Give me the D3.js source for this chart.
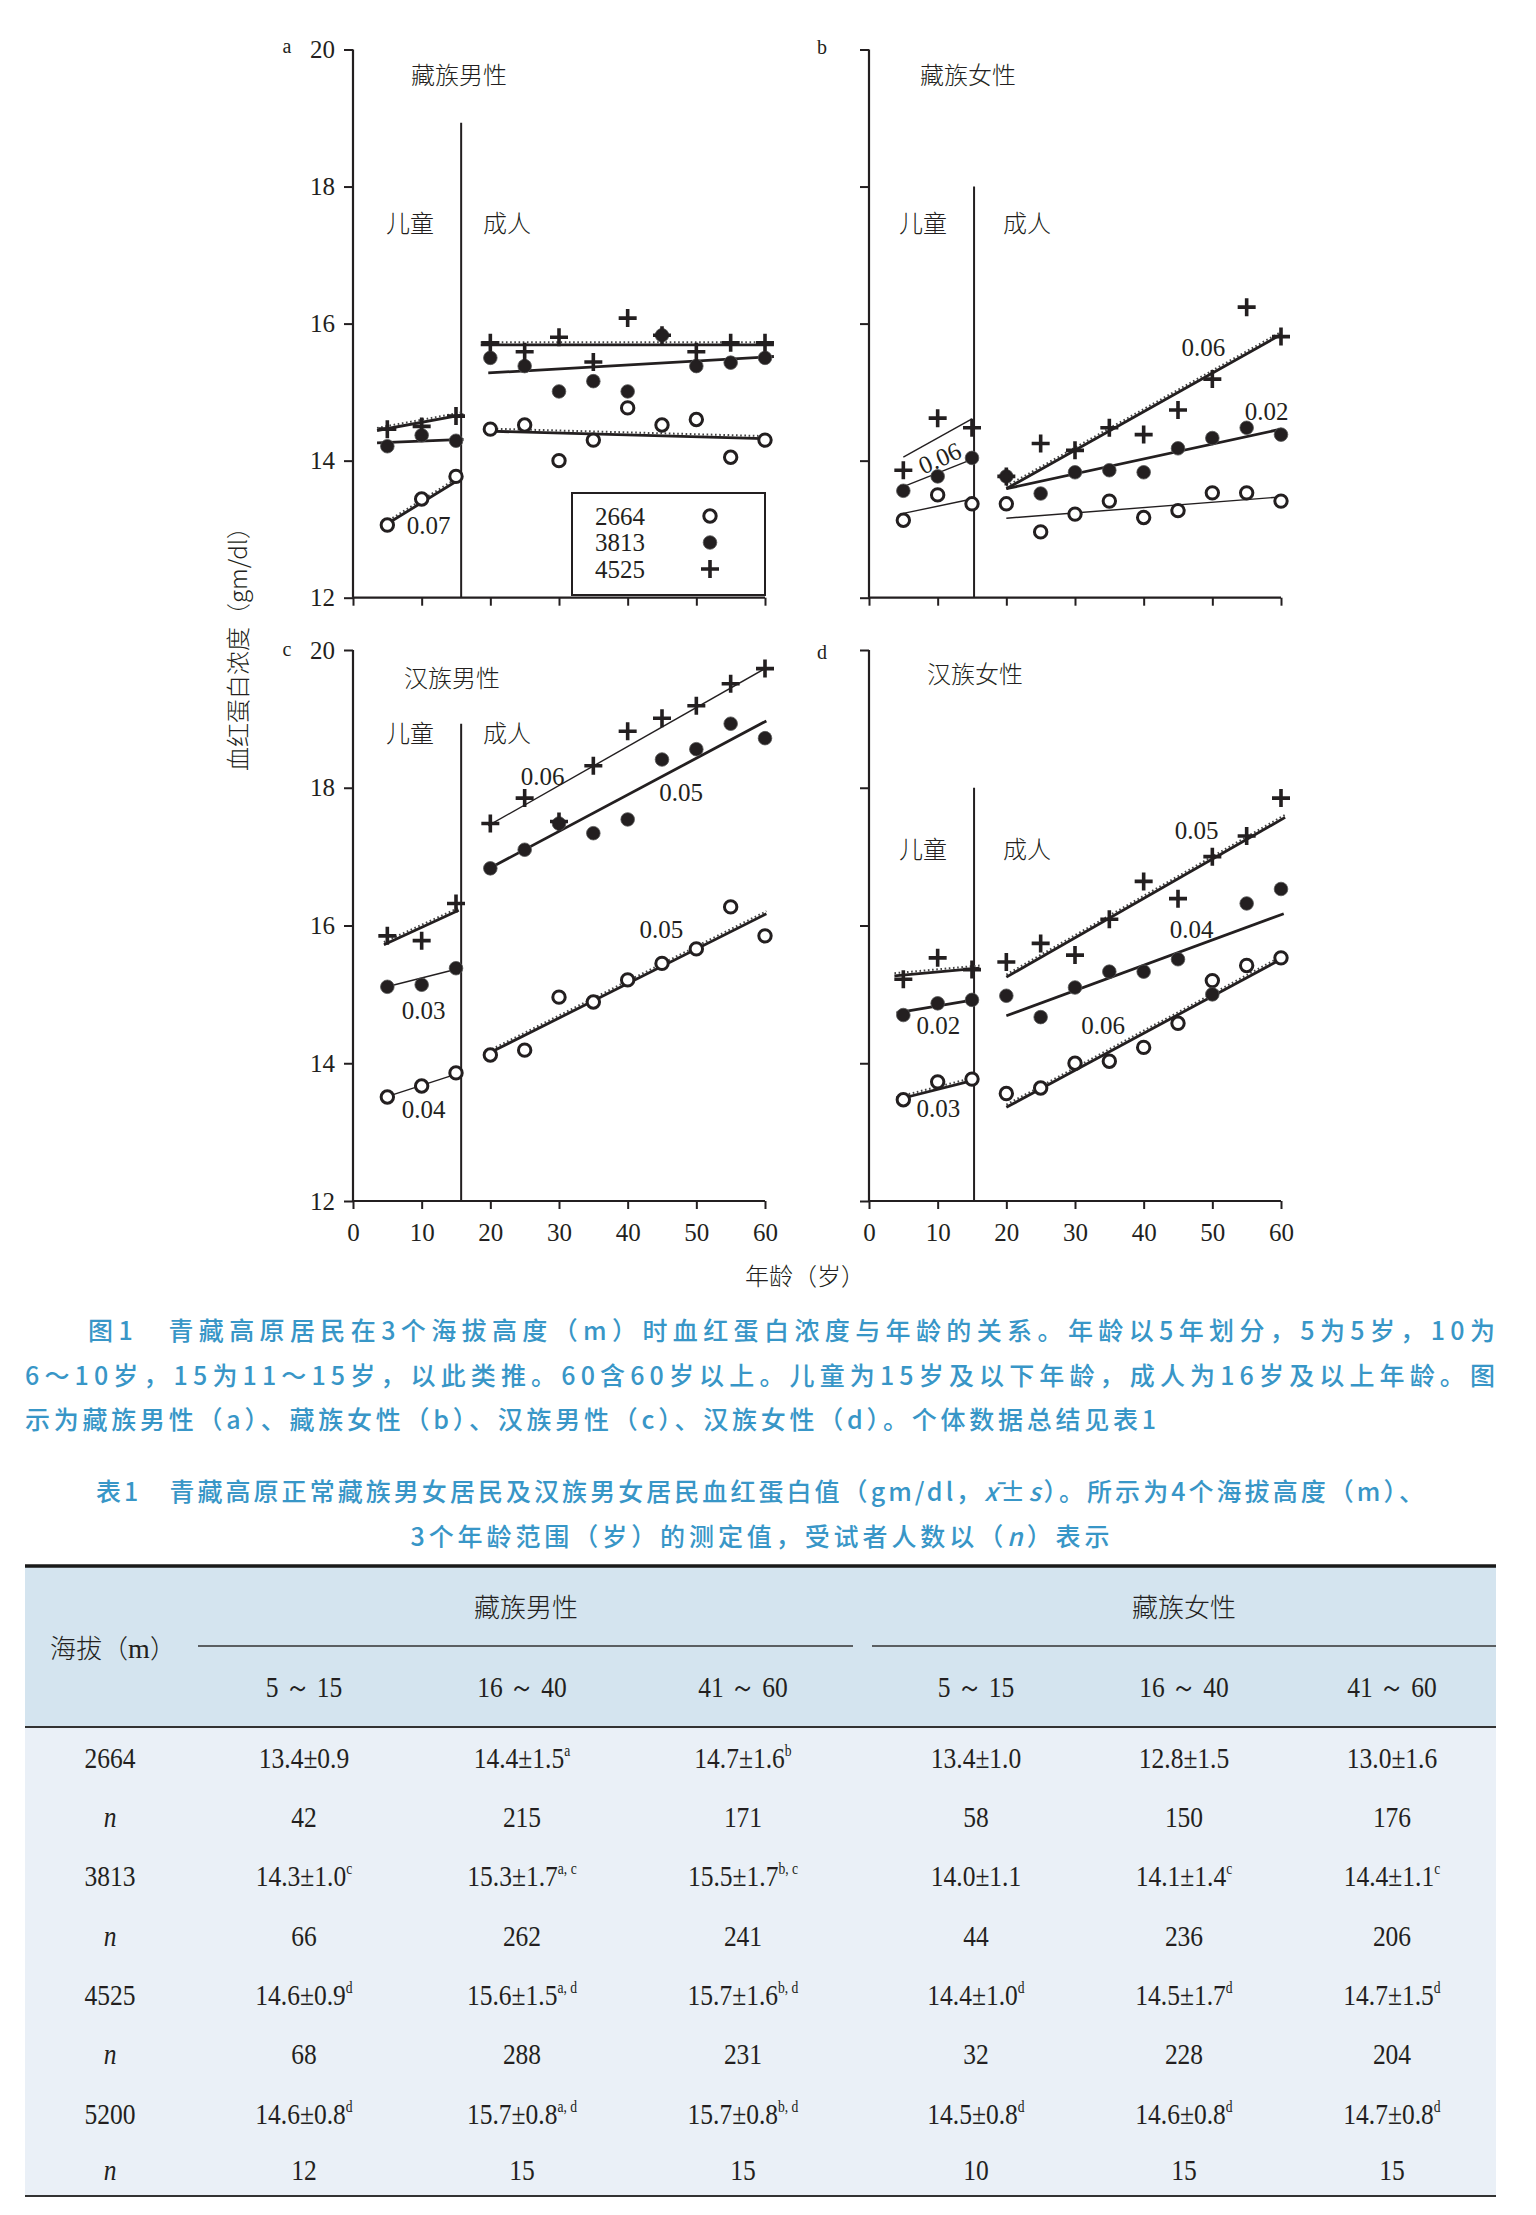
<!DOCTYPE html>
<html><head><meta charset="utf-8">
<script src="https://cdn.jsdelivr.net/npm/d3@7"></script>
<style>
html,body{margin:0;padding:0;background:#fff;}
svg{display:block;}
</style></head>
<body>
<svg id="chart" width="1536" height="2215"></svg>
<script>
// ---------------- DATA ----------------
const ages = [5,10,15,20,25,30,35,40,45,50,55,60];
const altitudes = ["2664","3813","4525"];
const yTickValues = [12,14,16,18,20];
const xTickValues = [0,10,20,30,40,50,60];

// a: 藏族男性
const tibMale2664 = [13.06,13.44,13.77,14.46,14.52,14.00,14.30,14.77,14.52,14.60,14.05,14.30];
const tibMale3813 = [14.21,14.37,14.29,15.50,15.38,15.01,15.16,15.01,15.83,15.38,15.43,15.50];
const tibMale4525 = [14.46,14.50,14.65,15.72,15.59,15.80,15.44,16.08,15.83,15.59,15.72,15.72];
const tibMaleFits = [["4525",3.5,14.44,16.1,14.67],["3813",3.5,14.26,16.1,14.31],["2664",4.7,13.06,15.7,13.74],
                     ["4525",18.6,15.69,61.3,15.69],["3813",19.7,15.28,61.3,15.52],["2664",19.7,14.43,60.2,14.32]];
const tibMaleFitKind = ["bold-dot","bold","bold-dot","bold-dot","bold","bold-dot"];
const tibMaleSlopes = [["0.07",11.0,13.06]];

// b: 藏族女性
const tibFemale2664 = [13.13,13.50,13.37,13.37,12.96,13.22,13.41,13.17,13.27,13.53,13.53,13.41];
const tibFemale3813 = [13.56,13.77,14.04,13.77,13.52,13.83,13.86,13.83,14.18,14.33,14.48,14.38];
const tibFemale4525 = [13.86,14.62,14.48,13.77,14.25,14.15,14.48,14.38,14.74,15.19,16.24,15.81];
const tibFemaleFits = [["4525",5,14.05,15,14.61],["3813",5,13.62,15,14.02],["2664",5,13.23,15,13.44],
                       ["4525",20,13.59,60,15.84],["3813",20,13.59,60,14.46],["2664",20,13.16,60,13.47]];
const tibFemaleFitKind = ["thin","thin","thin","bold-dot","bold","thin"];
const tibFemaleSlopes = [["0.06",10.3,14.04,-24],["0.06",48.7,15.65],["0.02",57.9,14.72]];

// c: 汉族男性
const hanMale2664 = [13.51,13.67,13.86,14.12,14.19,14.96,14.89,15.21,15.45,15.66,16.27,15.85];
const hanMale3813 = [15.11,15.14,15.38,16.83,17.10,17.48,17.34,17.54,18.41,18.56,18.93,18.72];
const hanMale4525 = [15.85,15.78,16.32,17.48,17.85,17.51,18.32,18.82,19.01,19.19,19.51,19.73];
const hanMaleFits = [["4525",4.5,15.72,15.4,16.22],["3813",4.5,15.10,15.6,15.38],["2664",4.5,13.50,15.6,13.86],
                     ["4525",19.7,17.45,60,19.73],["3813",19.7,16.82,60.2,18.97],["2664",19.7,14.14,60.2,16.17]];
const hanMaleFitKind = ["bold-dot","thin","thin","thin","bold","bold-dot"];
const hanMaleSlopes = [["0.03",10.3,14.77],["0.04",10.3,13.33],["0.06",27.6,18.16],["0.05",47.8,17.94],["0.05",44.9,15.95]];

// d: 汉族女性
const hanFemale2664 = [13.47,13.73,13.77,13.56,13.64,14.00,14.03,14.23,14.58,15.20,15.42,15.53];
const hanFemale3813 = [14.70,14.87,14.92,14.98,14.67,15.10,15.33,15.33,15.51,15.00,16.32,16.53];
const hanFemale4525 = [15.22,15.53,15.36,15.47,15.74,15.57,16.09,16.64,16.39,17.00,17.30,17.85];
const hanFemaleFits = [["4525",3.7,15.27,16.1,15.38],["3813",4,14.73,15.9,14.93],["2664",4,13.47,15.9,13.77],
                       ["4525",20,15.25,60.6,17.57],["3813",20,14.69,60.4,16.17],["2664",20,13.36,60,15.51]];
const hanFemaleFitKind = ["bold-dot","bold","bold-dot","bold-dot","bold","bold-dot"];
const hanFemaleSlopes = [["0.02",10.1,14.55],["0.03",10.1,13.34],["0.05",47.7,17.39],["0.04",47.0,15.95],["0.06",34.1,14.55]];

// divider (儿童 / 成人)
const dividerAge = [15.75,15.3,15.75,15.3];
const dividerTop = [18.93,18.0,18.93,18.0];

// caption & table text
const captionLines = [
  "图1　青藏高原居民在3个海拔高度（m）时血红蛋白浓度与年龄的关系。年龄以5年划分，5为5岁，10为",
  "6～10岁，15为11～15岁，以此类推。60含60岁以上。儿童为15岁及以下年龄，成人为16岁及以上年龄。图",
  "示为藏族男性（a）、藏族女性（b）、汉族男性（c）、汉族女性（d）。个体数据总结见表1"
];
const tableGroups = ["藏族男性","藏族女性"];
const tableCols = ["5 ～ 15","16 ～ 40","41 ～ 60","5 ～ 15","16 ～ 40","41 ～ 60"];
const rowLabels = ["2664","n","3813","n","4525","n","5200","n"];
const hb2664 = ["13.4±0.9","14.4±1.5","14.7±1.6","13.4±1.0","12.8±1.5","13.0±1.6"];
const sup2664 = ["","a","b","","",""];
const n2664 = ["42","215","171","58","150","176"];
const hb3813 = ["14.3±1.0","15.3±1.7","15.5±1.7","14.0±1.1","14.1±1.4","14.4±1.1"];
const sup3813 = ["c","a, c","b, c","","c","c"];
const n3813 = ["66","262","241","44","236","206"];
const hb4525 = ["14.6±0.9","15.6±1.5","15.7±1.6","14.4±1.0","14.5±1.7","14.7±1.5"];
const sup4525 = ["d","a, d","b, d","d","d","d"];
const n4525 = ["68","288","231","32","228","204"];
const hb5200 = ["14.6±0.8","15.7±0.8","15.7±0.8","14.5±0.8","14.6±0.8","14.7±0.8"];
const sup5200 = ["d","a, d","b, d","d","d","d"];
const n5200 = ["12","15","15","10","15","15"];

// ---------------- DRAW ----------------
const SERIF = "'Liberation Serif','Times New Roman',serif";
const CJK = "'Noto Sans CJK SC','Noto Sans',sans-serif";
const INK = "#231f20";
const BLUE = "#3896c7";
const svg = d3.select("#chart");
svg.append("rect").attr("width",1536).attr("height",2215).attr("fill","#fff");

function marker(g, kind, x, y){
  if(kind==="2664"){
    g.append("circle").attr("cx",x).attr("cy",y).attr("r",6.2).attr("fill","#fff").attr("stroke",INK).attr("stroke-width",3);
  } else if(kind==="3813"){
    g.append("circle").attr("cx",x).attr("cy",y).attr("r",6.8).attr("fill",INK).attr("stroke","#555").attr("stroke-width",0.8);
  } else {
    g.append("path").attr("d",`M${x-9},${y}H${x+9}M${x},${y-9}V${y+9}`).attr("stroke",INK).attr("stroke-width",3.6).attr("fill","none");
  }
}

const panels = [
  {x0:353,x1:765,yT:49.5,yB:597.7,showY:true,showX:false,letter:"a",lx:287,ly:53,title:"藏族男性",tx:459,ty:84,
   series:[tibMale2664,tibMale3813,tibMale4525],fits:tibMaleFits,kind:tibMaleFitKind,slopes:tibMaleSlopes,
   kid:[410,232],adult:[507,232],legend:true},
  {x0:869,x1:1281,yT:49.5,yB:597.7,showY:false,showX:false,letter:"b",lx:822,ly:54,title:"藏族女性",tx:968,ty:84,
   series:[tibFemale2664,tibFemale3813,tibFemale4525],fits:tibFemaleFits,kind:tibFemaleFitKind,slopes:tibFemaleSlopes,
   kid:[923,232],adult:[1027,232]},
  {x0:353,x1:765,yT:650,yB:1201,showY:true,showX:true,letter:"c",lx:287,ly:656,title:"汉族男性",tx:452,ty:687,
   series:[hanMale2664,hanMale3813,hanMale4525],fits:hanMaleFits,kind:hanMaleFitKind,slopes:hanMaleSlopes,
   kid:[410,742],adult:[507,742]},
  {x0:869,x1:1281,yT:650,yB:1201,showY:false,showX:true,letter:"d",lx:822,ly:659,title:"汉族女性",tx:975,ty:683,
   series:[hanFemale2664,hanFemale3813,hanFemale4525],fits:hanFemaleFits,kind:hanFemaleFitKind,slopes:hanFemaleSlopes,
   kid:[923,858],adult:[1027,858]}
];

panels.forEach((p,i)=>{
  const g = svg.append("g");
  const x = d3.scaleLinear().domain([0,60]).range([p.x0,p.x1]);
  const y = d3.scaleLinear().domain([12,20]).range([p.yB,p.yT]);

  const ya = g.append("g").attr("transform",`translate(${p.x0},0)`)
    .call(d3.axisLeft(y).tickValues(yTickValues).tickSize(9).tickPadding(9)
      .tickFormat(p.showY ? d3.format("d") : ()=>""));
  const xa = g.append("g").attr("transform",`translate(0,${p.yB})`)
    .call(d3.axisBottom(x).tickValues(xTickValues).tickSize(8).tickPadding(14)
      .tickFormat(p.showX ? d3.format("d") : ()=>""));
  [ya,xa].forEach(a=>{
    a.select(".domain").attr("stroke",INK).attr("stroke-width",2.2);
    a.selectAll(".tick line").attr("stroke",INK).attr("stroke-width",2);
    a.selectAll(".tick text").attr("fill",INK).attr("font-family",SERIF).attr("font-size",25);
  });
  ya.select(".domain").attr("d",`M0,${y(12)}V${y(20)}`);
  xa.select(".domain").attr("d",`M${x(0)},0H${x(60)}`);

  g.append("line").attr("x1",x(dividerAge[i])).attr("x2",x(dividerAge[i]))
    .attr("y1",y(12)).attr("y2",y(dividerTop[i])).attr("stroke",INK).attr("stroke-width",2);

  g.append("text").attr("x",p.lx).attr("y",p.ly).attr("text-anchor","middle")
    .attr("font-family",SERIF).attr("font-size",20).attr("fill",INK).text(p.letter);
  g.append("text").attr("x",p.tx).attr("y",p.ty).attr("text-anchor","middle")
    .attr("font-family",CJK).attr("font-weight",300).attr("font-size",24).attr("fill",INK).text(p.title);
  g.append("text").attr("x",p.kid[0]).attr("y",p.kid[1]).attr("text-anchor","middle")
    .attr("font-family",CJK).attr("font-weight",300).attr("font-size",24).attr("fill",INK).text("儿童");
  g.append("text").attr("x",p.adult[0]).attr("y",p.adult[1]).attr("text-anchor","middle")
    .attr("font-family",CJK).attr("font-weight",300).attr("font-size",24).attr("fill",INK).text("成人");

  p.fits.forEach((f,j)=>{
    const k = p.kind[j];
    const x1=x(f[1]), y1=y(f[2]), x2=x(f[3]), y2=y(f[4]);
    if(k.includes("dot")){
      g.append("line").attr("x1",x1).attr("y1",y1-2.6).attr("x2",x2).attr("y2",y2-2.6)
        .attr("stroke","#444").attr("stroke-width",2).attr("stroke-dasharray","1.6 2.6");
    }
    g.append("line").attr("x1",x1).attr("y1",y1).attr("x2",x2).attr("y2",y2)
      .attr("stroke",INK).attr("stroke-width",k.startsWith("bold")?2.8:1.4);
  });

  p.series.forEach((s,si)=>{
    s.forEach((v,ai)=> marker(g, altitudes[si], x(ages[ai]), y(v)));
  });

  p.slopes.forEach(sl=>{
    const t = g.append("text").attr("x",x(sl[1])).attr("y",y(sl[2])).attr("dy","0.35em")
      .attr("text-anchor","middle").attr("font-family",SERIF).attr("font-size",25).attr("fill",INK).text(sl[0]);
    if(sl[3]) t.attr("transform",`rotate(${sl[3]},${x(sl[1])},${y(sl[2])})`);
  });

  if(p.legend){
    const lg = g.append("g");
    lg.append("rect").attr("x",572).attr("y",493).attr("width",193).attr("height",102)
      .attr("fill","#fff").attr("stroke",INK).attr("stroke-width",2);
    altitudes.forEach((a,ai)=>{
      const cy = 516 + ai*26.5;
      lg.append("text").attr("x",595).attr("y",cy).attr("dy","0.35em").attr("font-family",SERIF)
        .attr("font-size",25).attr("fill",INK).text(a);
      marker(lg, a, 710, cy);
    });
  }
});

svg.append("text").attr("transform","translate(247,643) rotate(-90)").attr("text-anchor","middle")
  .attr("font-family",CJK).attr("font-weight",300).attr("font-size",24).attr("fill",INK)
  .text("血红蛋白浓度（gm/dl）");
svg.append("text").attr("x",805).attr("y",1285).attr("text-anchor","middle")
  .attr("font-family",CJK).attr("font-weight",300).attr("font-size",24).attr("fill",INK).text("年龄（岁）");

// caption
const capX = [88,25,25], capY = [1340,1385,1429], capLen = [1407,1470,1131];
captionLines.forEach((c,i)=>{
  svg.append("text").attr("x",capX[i]).attr("y",capY[i]).attr("font-family",CJK)
    .attr("font-size",25).attr("font-weight",500).attr("fill",BLUE)
    .attr("textLength",capLen[i]).attr("lengthAdjust","spacing").text(c);
});

// table title
const tt1 = svg.append("text").attr("x",760).attr("y",1501).attr("text-anchor","middle")
  .attr("font-family",CJK).attr("font-size",25).attr("font-weight",500).attr("fill",BLUE)
  .attr("textLength",1328).attr("lengthAdjust","spacing");
tt1.append("tspan").text("表1　青藏高原正常藏族男女居民及汉族男女居民血红蛋白值（gm/dl，");
tt1.append("tspan").attr("font-style","italic").text("x̄");
tt1.append("tspan").text("±");
tt1.append("tspan").attr("font-style","italic").text("s");
tt1.append("tspan").text("）。所示为4个海拔高度（m）、");
const tt2 = svg.append("text").attr("x",760).attr("y",1546).attr("text-anchor","middle")
  .attr("font-family",CJK).attr("font-size",25).attr("font-weight",500).attr("fill",BLUE)
  .attr("textLength",699).attr("lengthAdjust","spacing");
tt2.append("tspan").text("3个年龄范围（岁）的测定值，受试者人数以（");
tt2.append("tspan").attr("font-style","italic").text("n");
tt2.append("tspan").text("）表示");

// table
const tg = svg.append("g");
const TL = 25, TR = 1496;
tg.append("rect").attr("x",TL).attr("y",1566).attr("width",TR-TL).attr("height",161).attr("fill","#d4e4ef");
tg.append("rect").attr("x",TL).attr("y",1727).attr("width",TR-TL).attr("height",469).attr("fill","#eaf0f7");
tg.append("line").attr("x1",TL).attr("x2",TR).attr("y1",1566).attr("y2",1566).attr("stroke","#1a1a1a").attr("stroke-width",3.5);
tg.append("line").attr("x1",TL).attr("x2",TR).attr("y1",1727).attr("y2",1727).attr("stroke","#333").attr("stroke-width",2.2);
tg.append("line").attr("x1",TL).attr("x2",TR).attr("y1",2196).attr("y2",2196).attr("stroke","#333").attr("stroke-width",2.2);
tg.append("line").attr("x1",198).attr("x2",853).attr("y1",1646).attr("y2",1646).attr("stroke","#333").attr("stroke-width",1.6);
tg.append("line").attr("x1",872).attr("x2",TR).attr("y1",1646).attr("y2",1646).attr("stroke","#333").attr("stroke-width",1.6);

const colX = [304,522,743,976,1184,1392];
const groupX = [526,1184];
const SX = 0.85;
function condensed(parent, cx, cy){
  return parent.append("text").attr("transform",`translate(${cx},${cy}) scale(${SX},1)`)
    .attr("text-anchor","middle").attr("font-family",SERIF).attr("font-size",30).attr("fill",INK);
}
tableGroups.forEach((gname,i)=>{
  tg.append("text").attr("x",groupX[i]).attr("y",1617).attr("text-anchor","middle")
    .attr("font-family",CJK).attr("font-weight",300).attr("font-size",26).attr("fill",INK).text(gname);
});
const hdr = tg.append("text").attr("x",113).attr("y",1658).attr("text-anchor","middle")
  .attr("font-family",CJK).attr("font-weight",300).attr("font-size",26).attr("fill",INK);
hdr.append("tspan").text("海拔（");
hdr.append("tspan").attr("font-family",SERIF).attr("font-size",28).text("m");
hdr.append("tspan").text("）");
tableCols.forEach((c,i)=>{
  condensed(tg, colX[i], 1697).text(c);
});

const rowY = [1758,1817,1876,1936,1995,2054,2114,2170];
const rows = [[hb2664,sup2664],[n2664,null],[hb3813,sup3813],[n3813,null],[hb4525,sup4525],[n4525,null],[hb5200,sup5200],[n5200,null]];
rows.forEach((r,ri)=>{
  const yb = rowY[ri] + 10;
  condensed(tg, 110, yb).attr("font-style",rowLabels[ri]==="n"?"italic":"normal").text(rowLabels[ri]);
  r[0].forEach((v,ci)=>{
    const t = condensed(tg, colX[ci], yb);
    t.append("tspan").text(v);
    if(r[1] && r[1][ci]) t.append("tspan").attr("dy",-12).attr("font-size",16).text(r[1][ci]);
  });
});
</script>
</body></html>
